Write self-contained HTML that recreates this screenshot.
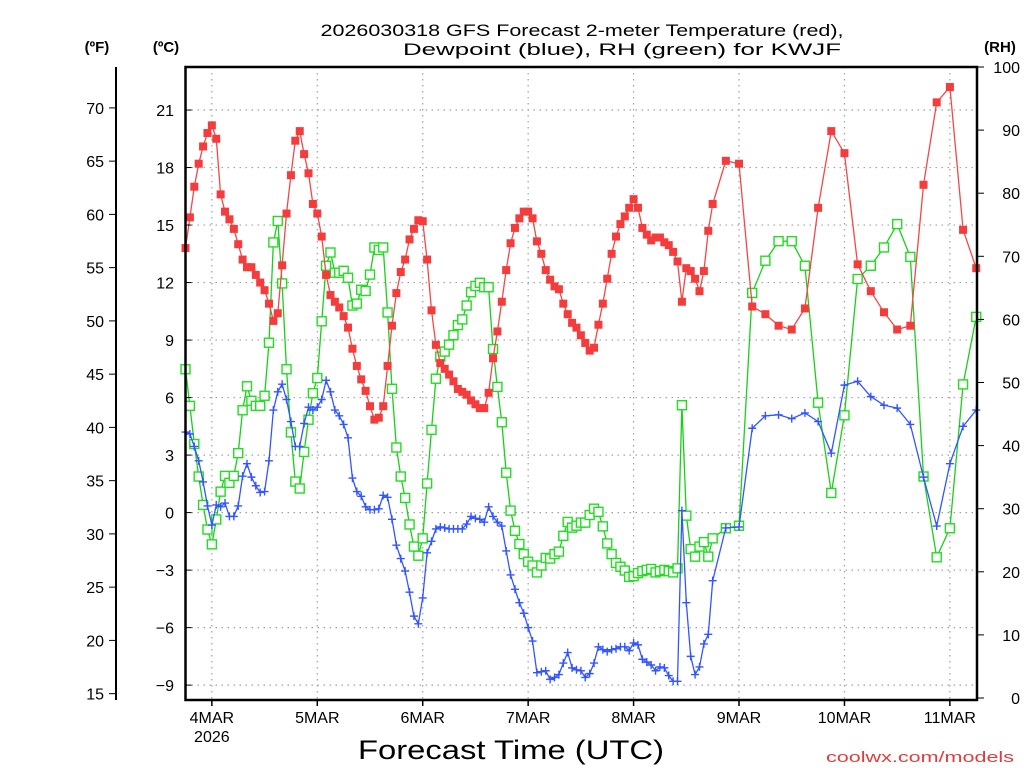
<!DOCTYPE html>
<html><head><meta charset="utf-8"><title>GFS Forecast KWJF</title>
<style>
html,body{margin:0;padding:0;background:#fff;}
svg{display:block;font-family:"Liberation Sans",sans-serif;}
</style></head>
<body>
<svg id="chart" width="1024" height="768" viewBox="0 0 1024 768" xmlns="http://www.w3.org/2000/svg">
<rect x="0" y="0" width="1024" height="768" fill="#fff"/>
<g id="grid"></g>
<g id="series"></g>
<g id="axes"></g>
<text x="582" y="36" font-size="17" text-anchor="middle" textLength="523" lengthAdjust="spacingAndGlyphs" fill="#000">2026030318 GFS Forecast 2-meter Temperature (red),</text>
<text x="622" y="55" font-size="17" text-anchor="middle" textLength="438" lengthAdjust="spacingAndGlyphs" fill="#000">Dewpoint (blue), RH (green) for KWJF</text>
<text x="97" y="52" font-size="15" font-weight="bold" text-anchor="middle">(ºF)</text>
<text x="166" y="52" font-size="15" font-weight="bold" text-anchor="middle">(ºC)</text>
<text x="1000" y="52" font-size="15" font-weight="bold" text-anchor="middle">(RH)</text>
<text x="511" y="759" font-size="27" text-anchor="middle" textLength="306" lengthAdjust="spacingAndGlyphs">Forecast Time (UTC)</text>
<text x="920" y="762" font-size="15" text-anchor="middle" textLength="188" lengthAdjust="spacingAndGlyphs" fill="#e03c3c">coolwx.com/models</text>
</svg>
<script>
const tempC=[13.8,15.4,17.0,18.2,19.1,19.8,20.2,19.5,16.6,15.7,
15.3,14.8,14.0,13.2,12.8,12.8,12.4,12.0,11.6,10.9,
10.0,10.4,12.9,15.6,17.6,19.4,19.9,18.7,17.7,16.1,
15.6,14.4,12.4,11.35,11.0,10.7,10.25,9.65,8.55,7.65,
6.95,6.35,5.55,4.85,4.95,5.55,7.65,9.75,11.45,12.55,
13.2,14.25,14.8,15.25,15.2,13.2,10.55,8.75,7.8,7.5,
7.2,6.85,6.45,6.3,6.15,5.85,5.65,5.45,5.45,6.25,
8.05,9.45,11.0,12.65,14.05,14.85,15.35,15.7,15.7,15.35,
14.15,13.5,12.65,12.15,11.8,11.65,10.9,10.35,9.9,9.65,
9.25,8.85,8.45,8.6,9.8,10.9,12.2,13.5,14.4,15.05,
15.45,15.9,16.35,15.9,14.85,14.5,14.2,14.35,14.35,14.1,
13.95,13.6,13.1,11.0,12.75,12.6,12.2,11.55,12.6,14.7,
16.1,
18.35,18.2,10.75,10.35,9.75,9.55,10.65,15.9,19.9,18.75,12.95,11.55,10.45,9.55,9.75,17.1,21.4,22.2,14.75,12.75];
const dewC=[4.2,4.1,3.45,2.7,1.6,0.35,-0.65,0.4,0.3,0.5,
-0.2,-0.2,0.35,1.9,2.55,1.85,1.4,1.05,1.1,2.7,
5.35,6.3,6.7,5.9,4.75,3.45,3.45,4.65,5.5,5.35,
5.5,5.9,6.9,6.3,5.35,5.05,4.6,3.9,1.8,1.1,
0.85,0.3,0.15,0.15,0.2,0.9,0.8,-0.35,-1.7,-2.4,
-3.05,-4.15,-5.4,-5.8,-4.45,-2.1,-1.5,-0.85,-0.75,-0.8,
-0.85,-0.85,-0.85,-0.85,-0.6,-0.2,-0.3,-0.35,-0.5,0.3,
-0.2,-0.5,-0.7,-2.0,-3.25,-4.0,-4.7,-5.25,-6.0,-6.7,
-8.35,-8.3,-8.25,-8.7,-8.6,-8.45,-7.85,-7.3,-8.1,-8.2,
-8.25,-8.6,-8.4,-7.85,-7.0,-7.15,-7.25,-7.15,-7.1,-7.0,
-7.0,-7.2,-6.8,-6.9,-7.65,-7.8,-7.95,-8.25,-8.05,-8.1,
-8.5,-8.8,-8.8,0.1,-4.7,-7.5,-8.45,-8.05,-6.85,-6.35,
-3.55,
-0.8,-0.75,4.4,5.05,5.1,4.9,5.2,4.75,3.1,6.65,6.85,6.05,5.6,5.45,4.6,1.85,-0.7,2.55,4.5,5.35];
const rh=[52.1,46.3,40.25,35.1,30.6,26.7,24.35,28.3,32.7,35.2,
34.1,35.2,38.8,45.6,49.4,47.1,46.3,46.3,47.9,56.3,
72.2,75.6,65.7,52.1,42.1,34.3,33.2,39.0,44.1,48.3,
50.7,59.7,68.5,70.6,67.4,67.4,67.7,66.6,62.2,62.5,
64.7,64.5,67.1,71.4,71.0,71.4,61.1,49.0,39.7,35.1,
31.7,27.5,24.0,22.55,25.3,34.0,42.5,50.6,54.1,54.9,
56.0,57.5,59.1,60.0,62.2,64.3,65.3,65.8,65.1,65.1,
55.3,49.3,43.7,35.7,29.7,26.5,24.4,22.8,21.6,21.0,
19.9,21.0,22.2,22.1,22.8,23.2,25.7,27.9,27.0,27.3,
27.8,27.8,29.0,30.0,29.5,27.2,24.5,22.8,21.4,20.8,
20.2,19.2,19.3,19.8,20.1,20.3,20.45,19.9,20.1,20.3,
20.1,19.9,20.55,46.4,28.9,23.6,22.4,24.0,24.7,22.4,
25.3,
26.9,27.3,64.2,69.3,72.4,72.4,68.5,46.8,32.5,44.8,66.4,68.5,71.4,75.1,69.9,35.1,22.3,26.9,49.7,60.4];
const cTicks=[21,18,15,12,9,6,3,0,-3,-6,-9];
const fTicks=[70,65,60,55,50,45,40,35,30,25,20,15];
const rhTicks=[100,90,80,70,60,50,40,30,20,10,0];
const dayLabels=["4MAR","5MAR","6MAR","7MAR","8MAR","9MAR","10MAR","11MAR"];
const dayHours=[6,30,54,78,102,126,150,174];

const NS="http://www.w3.org/2000/svg";
const X0=185.5,X1=977,Y0=67,Y1=700;
// forecast hours: hourly to 120, then 3-hourly
const hours=[];
for(let i=0;i<tempC.length;i++){hours.push(i<=120?i:120+(i-120)*3);}
function xOf(h){return X0+h*4.393;}
function yC(t){return 512.6-t*19.17;}
function yF(f){return yC((f-32)/1.8);}
function yRH(r){return 698-r*6.31;}
function mk(tag,attrs,parent){const e=document.createElementNS(NS,tag);for(const k in attrs)e.setAttribute(k,attrs[k]);parent.appendChild(e);return e;}

const grid=document.getElementById('grid');
const axes=document.getElementById('axes');
const series=document.getElementById('series');

// horizontal gridlines + C labels
cTicks.forEach(t=>{
  const y=yC(t);
  const g=mk('line',{x1:X0,x2:X1,y1:y,y2:y,stroke:'#a0a0a0','stroke-width':1.2,'stroke-dasharray':'1.5 4.5'},grid);
  
  
  const tk=mk('line',{x1:X0,x2:X0+6,y1:y,y2:y,stroke:'#000','stroke-width':1},axes);
  
  
  const tx=mk('text',{x:174,y:y+6,'font-size':16,'text-anchor':'end',fill:'#000'},axes);
  tx.textContent=t<0?('\u2212'+Math.abs(t)):String(t);
  
  
});
// vertical day gridlines + labels
dayHours.forEach((h,i)=>{
  const x=xOf(h);
  const g=mk('line',{x1:x,x2:x,y1:Y0,y2:Y1,stroke:'#a0a0a0','stroke-width':1.2,'stroke-dasharray':'1.5 4.5'},grid);
  
  
  const tk=mk('line',{x1:x,x2:x,y1:Y1,y2:Y1+6,stroke:'#000','stroke-width':1.5},axes);
  
  
  const tx=mk('text',{x:x,y:723,'font-size':16,'text-anchor':'middle',fill:'#000'},axes);
  tx.textContent=dayLabels[i];
  
  
});
const yr=mk('text',{x:xOf(6),y:742,'font-size':16,'text-anchor':'middle',fill:'#000'},axes);
yr.textContent='2026';



// F axis
const fl=mk('line',{x1:116,x2:116,y1:Y0,y2:Y1,stroke:'#000','stroke-width':2},axes);


fTicks.forEach(f=>{
  const y=yF(f);
  const tk=mk('line',{x1:109,x2:116,y1:y,y2:y,stroke:'#000','stroke-width':1},axes);
  
  
  const tx=mk('text',{x:104,y:y+6,'font-size':16,'text-anchor':'end',fill:'#000'},axes);
  tx.textContent=String(f);
  
  
});
// RH axis
rhTicks.forEach(r=>{
  const y=yRH(r);
  const tk=mk('line',{x1:X1,x2:X1+7,y1:y,y2:y,stroke:'#000','stroke-width':1},axes);
  
  
  const tx=mk('text',{x:1020,y:y+6,'font-size':16,'text-anchor':'end',fill:'#000'},axes);
  tx.textContent=String(r);
  
  
});
// frame
const fr=mk('rect',{x:X0,y:Y0,width:X1-X0,height:Y1-Y0,fill:'none',stroke:'#000','stroke-width':2.5},axes);



function drawLine(vals,yfn,color,name){
  const pts=vals.map((v,i)=>xOf(hours[i]).toFixed(1)+','+yfn(v).toFixed(1)).join(' ');
  const pl=mk('polyline',{points:pts,fill:'none',stroke:color,'stroke-width':1.3},series);
  
  
}
// RH (green)
drawLine(rh,yRH,'#18d018','rh-line');
rh.forEach((v,i)=>{
  const x=xOf(hours[i]),y=yRH(v);
  const m=mk('rect',{x:x-4.5,y:y-4.5,width:9,height:9,fill:'#fff',stroke:'#22dd22','stroke-width':1.4},series);
  
  
});
// Dewpoint (blue)
drawLine(dewC,yC,'#3355ff','dewpoint-line');
dewC.forEach((v,i)=>{
  const x=xOf(hours[i]),y=yC(v);
  const m=mk('path',{d:`M${x-4},${y}H${x+4}M${x},${y-4}V${y+4}`,stroke:'#3355ff','stroke-width':1.4,fill:'none'},series);
  
  
});
// Temperature (red)
drawLine(tempC,yC,'#f04848','temperature-line');
tempC.forEach((v,i)=>{
  const x=xOf(hours[i]),y=yC(v);
  const m=mk('rect',{x:x-4,y:y-4,width:8,height:8,fill:'#f43c3c'},series);
  
  
});
</script>
</body></html>
